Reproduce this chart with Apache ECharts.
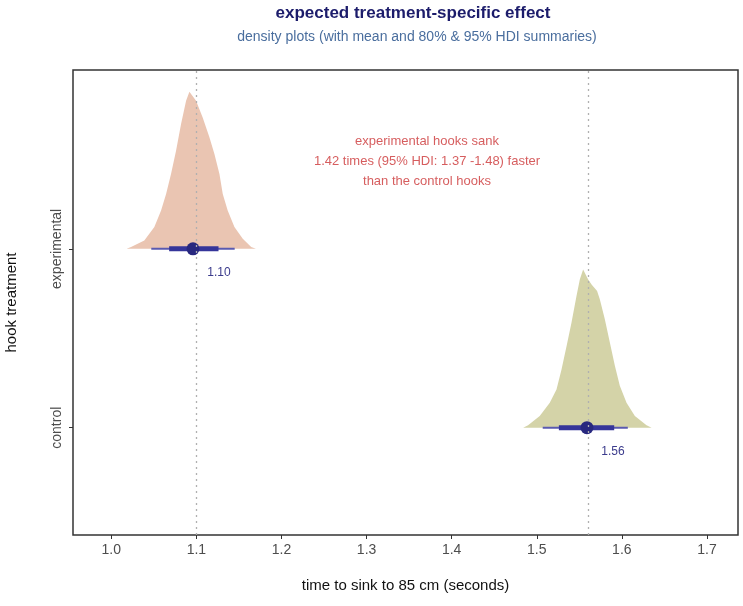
<!DOCTYPE html>
<html>
<head>
<meta charset="utf-8">
<script src="https://cdn.jsdelivr.net/npm/echarts@6/dist/echarts.min.js"></script>
<style>
  html, body { margin: 0; padding: 0; background: #fff; }
  #chart { width: 743px; height: 606px; }
</style>
</head>
<body>
<div id="chart"></div>
<script>
// treatments on the y axis (position 1 = control, 2 = experimental)
const treatments = ['control', 'experimental']
const xTicks = [1.0, 1.1, 1.2, 1.3, 1.4, 1.5, 1.6, 1.7]

// density outlines: x value and scaled height
const expX = [1.018, 1.0232, 1.0388, 1.0506, 1.0585, 1.0644, 1.0702, 1.0761, 1.082, 1.0879, 1.0918,
  1.0996, 1.1074, 1.1153, 1.1212, 1.1271, 1.131, 1.1368, 1.1447, 1.1545, 1.1644, 1.170]
const expH = [0, 0.01, 0.047, 0.122, 0.214, 0.307, 0.419, 0.549, 0.698, 0.828, 0.878,
  0.828, 0.735, 0.624, 0.531, 0.419, 0.307, 0.214, 0.122, 0.056, 0.01, 0]

const ctlX = [1.484, 1.4898, 1.5035, 1.5153, 1.5232, 1.5291, 1.535, 1.5408, 1.5467, 1.5506, 1.5545,
  1.5604, 1.5644, 1.5709, 1.5741, 1.58, 1.5859, 1.5918, 1.5976, 1.6055, 1.6153, 1.629, 1.635]
const ctlH = [0, 0.013, 0.065, 0.14, 0.214, 0.326, 0.456, 0.587, 0.736, 0.829, 0.885,
  0.829, 0.801, 0.764, 0.718, 0.606, 0.476, 0.346, 0.234, 0.14, 0.065, 0.013, 0]

// mean and HDI summaries [mean, lo80, hi80, lo95, hi95]
const expSummary = [1.096, 1.068, 1.126, 1.047, 1.145]
const ctlSummary = [1.559, 1.526, 1.591, 1.507, 1.607]
const meanLabels = ['1.10', '1.56']
const refLines = [1.1, 1.56]

const annotation = 'experimental hooks sank\n1.42 times (95% HDI: 1.37 -1.48) faster\nthan the control hooks'

const navy = '#28287f'
const fillExp = '#eac5b2'
const fillCtl = '#d4d3a8'

const chart = echarts.init(document.getElementById('chart'))

const densitySeries = (xs, hs, base, color) => ({
  type: 'custom',
  coordinateSystem: 'cartesian2d',
  data: xs.map((x, i) => [x, base + hs[i]]),
  encode: { x: 0, y: 1 },
  silent: true,
  z: 1,
  renderItem: (params, api) => {
    if (params.dataIndex !== 0) return
    const pts = xs.map((x, i) => api.coord([x, base + hs[i]]))
    return {
      type: 'polygon',
      shape: { points: pts },
      style: { fill: color, stroke: null }
    }
  }
})

const bar = (lo, hi, y, width, color) => ({
  type: 'line',
  data: [[lo, y], [hi, y]],
  symbol: 'none',
  silent: true,
  z: 3,
  lineStyle: { color, width, cap: 'butt' }
})

const summarySeries = (s, y, label) => [
  bar(s[3], s[4], y, 2, '#5a5ab0'),
  bar(s[1], s[2], y, 5, '#35359a'),
  {
    type: 'scatter',
    data: [[s[0], y]],
    symbol: 'circle',
    symbolSize: 13,
    silent: true,
    z: 4,
    itemStyle: { color: navy, opacity: 1 },
    label: {
      show: true,
      formatter: label,
      position: 'bottom',
      offset: [26, 6],
      color: '#3b3b8c',
      fontSize: 12,
      fontFamily: 'Liberation Sans'
    }
  }
]

chart.setOption({
  backgroundColor: '#fff',
  animation: false,
  textStyle: { fontFamily: 'Liberation Sans' },
  title: [
    {
      text: 'expected treatment-specific effect',
      left: 408, top: 0, textAlign: 'center',
      textStyle: { color: '#1c1c6b', fontSize: 17, fontWeight: 'bold', fontFamily: 'Liberation Sans' }
    },
    {
      text: 'density plots (with mean and 80% & 95% HDI summaries)',
      left: 412, top: 25, textAlign: 'center',
      textStyle: { color: '#4a6e9e', fontSize: 14, fontWeight: 'normal', fontFamily: 'Liberation Sans' }
    }
  ],
  grid: {
    left: 73, right: 5, top: 70, bottom: 71,
    outerBoundsMode: 'none',
    show: true, borderColor: '#333', borderWidth: 1.5, backgroundColor: 'transparent'
  },
  xAxis: {
    type: 'value',
    min: 0.955,
    max: 1.7365,
    name: 'time to sink to 85 cm (seconds)',
    nameLocation: 'middle',
    nameGap: 43,
    nameTextStyle: { color: '#111', fontSize: 15 },
    axisLine: { show: false },
    axisTick: { show: true, customValues: xTicks, length: 4, lineStyle: { color: '#333' } },
    axisLabel: {
      customValues: xTicks,
      formatter: v => v.toFixed(1),
      color: '#4d4d4d', fontSize: 14, margin: 8
    },
    splitLine: { show: false }
  },
  yAxis: {
    type: 'value',
    min: 0.4,
    max: 3.0,
    name: 'hook treatment',
    nameLocation: 'middle',
    nameGap: 54,
    nameRotate: 90,
    nameTextStyle: { color: '#111', fontSize: 15 },
    axisLine: { show: false },
    axisTick: { show: true, customValues: [1, 2], length: 4, lineStyle: { color: '#333' } },
    axisLabel: {
      customValues: [1, 2],
      formatter: v => treatments[Math.round(v) - 1],
      rotate: 90,
      color: '#4d4d4d', fontSize: 14, margin: 9
    },
    splitLine: { show: false }
  },
  series: [
    densitySeries(expX, expH, 2, fillExp),
    densitySeries(ctlX, ctlH, 1, fillCtl),
    ...summarySeries(expSummary, 2, meanLabels[0]),
    ...summarySeries(ctlSummary, 1, meanLabels[1]),
    {
      type: 'scatter',
      data: [[1.371, 2.49]],
      symbolSize: 0,
      silent: true,
      label: {
        show: true,
        position: 'inside',
        formatter: annotation,
        color: '#cc3436',
        fontSize: 13,
        lineHeight: 20,
        align: 'center'
      },
      z: 5,
      markLine: {
        silent: true,
        symbol: 'none',
        label: { show: false },
        z: 10,
        lineStyle: { color: '#b0b0b0', type: [2, 4], width: 1.3 },
        data: refLines.map(v => ({ xAxis: v }))
      }
    }
  ]
})
</script>
</body>
</html>
